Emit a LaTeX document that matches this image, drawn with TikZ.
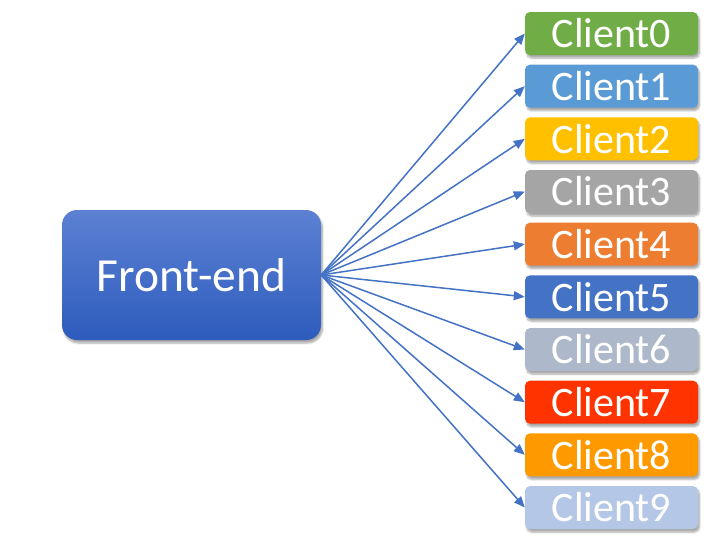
\documentclass[tikz,border=0pt]{standalone}
\usepackage{fontspec}
\setmainfont{Carlito}
\usetikzlibrary{arrows.meta,shadows.blur}
\definecolor{feTop}{HTML}{5C81D3}
\definecolor{feBot}{HTML}{2E5CBD}
\definecolor{arr}{HTML}{4472C4}
\definecolor{cA}{HTML}{70AD47}
\definecolor{cB}{HTML}{5B9BD5}
\definecolor{cC}{HTML}{FFC000}
\definecolor{cD}{HTML}{A5A5A5}
\definecolor{cE}{HTML}{ED7D31}
\definecolor{cF}{HTML}{4472C4}
\definecolor{cG}{HTML}{ADB9CA}
\definecolor{cH}{HTML}{FF3300}
\definecolor{cI}{HTML}{FF9900}
\definecolor{cJ}{HTML}{B4C7E7}

\begin{document}
\begin{tikzpicture}[x=1pt,y=-1pt,
  shad/.style={blur shadow={shadow xshift=1.5pt,shadow yshift=-3pt,shadow blur steps=6,shadow opacity=35}},
  client/.style={shad,rounded corners=5pt,minimum width=173pt,minimum height=43pt,inner sep=0pt,text=white,font=\fontsize{42}{42}\selectfont},
  link/.style={arr,line width=1.5pt,-{Triangle[length=11pt,width=9pt]}}]
\useasboundingbox (0,0) rectangle (718,554);
\node[shad,rounded corners=15pt,minimum width=259pt,minimum height=130pt,top color=feTop,bottom color=feBot,text=white,font=\fontsize{47.5}{47.5}\selectfont] (fe) at (191.5,275) {Front-end};
\foreach \c [count=\i from 0] in {cA,cB,cC,cD,cE,cF,cG,cH,cI,cJ}{
  \node[client,fill=\c] (cl\i) at (611.5,{33.5+52.67*\i}) {Client\i};
  \draw[link] (fe.east) -- (cl\i.west);
}
\end{tikzpicture}
\end{document}
